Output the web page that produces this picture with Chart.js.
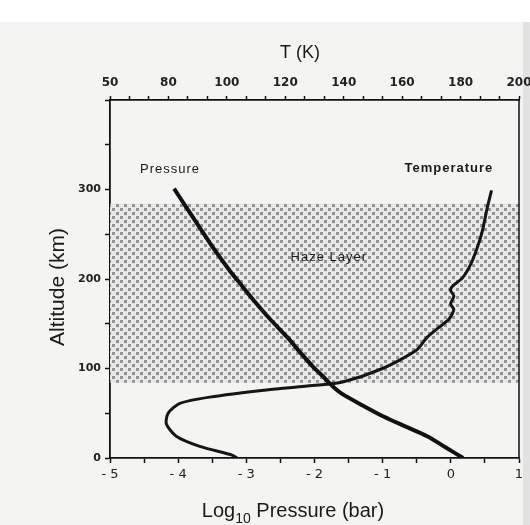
<!DOCTYPE html>
<html><head><meta charset="utf-8">
<script src="https://cdn.jsdelivr.net/npm/chart.js@4/dist/chart.umd.min.js"></script>
<style>html,body{margin:0;padding:0;background:#f4f4f2}#wrap{width:530px;height:525px}</style>
</head><body><div id="wrap"><canvas id="c" width="530" height="525"></canvas></div>
<script>
// ---- data ----
const pressureAlt = [0, 12, 24, 35, 46, 59, 72, 80, 90, 101, 118, 135, 155, 176, 192, 209, 233, 257, 280, 301];
const pressureLog = [0.18, -0.08, -0.34, -0.66, -0.98, -1.30, -1.60, -1.73, -1.86, -2.01, -2.21, -2.40, -2.65, -2.89, -3.06, -3.24, -3.47, -3.68, -3.88, -4.06];
const tempAlt = [0, 3, 13, 24, 38, 50, 61, 68, 76, 81, 85, 100, 120, 135, 146, 155, 166, 172, 181, 187, 192, 201, 216, 235, 253, 279, 299];
const tempK   = [103.5, 102, 90.7, 82.8, 79.3, 79.9, 83.9, 94.1, 113.5, 129.4, 139.6, 153.3, 164.7, 168.6, 172.6, 176, 177.7, 176.6, 177.7, 176.6, 177.2, 180.6, 183.4, 185.7, 187.4, 189.1, 190.6];
const hazeLayer = [84, 284];              // km, bottom and top of shaded haze layer
const pressureTickValues = [-5, -4, -3, -2, -1, 0, 1];
const pressureTickLabels = ['- 5', '- 4', '- 3', '- 2', '- 1', '0', '1'];
const tempTickValues = [60, 80, 100, 120, 140, 160, 180, 200];
const tempTickLabels = ['50', '80', '100', '120', '140', '160', '180', '200'];
const altTickValues = [0, 100, 200, 300];
const altTickLabels = ['0', '100', '200', '300'];
const curveLabels = ['Pressure', 'Temperature', 'Haze Layer'];

// halftone pattern for the haze layer
const pc = document.createElement('canvas'); pc.width = 8; pc.height = 8;
const px = pc.getContext('2d');
px.fillStyle = '#e8e8e8'; px.fillRect(0, 0, 8, 8);
px.fillStyle = '#939393'; px.fillRect(0, 0, 3, 3); px.fillRect(4, 4, 3, 3);
const hazePattern = px.createPattern(pc, 'repeat');

const FONT = '"Liberation Sans", Arial, sans-serif';
const TICKFONT = { family: '"DejaVu Sans", sans-serif', size: 12, weight: 'bold' };

const bgPlugin = {
  id: 'bg',
  beforeDraw(chart) {
    const c = chart.ctx; c.save();
    c.fillStyle = '#f4f4f2'; c.fillRect(0, 0, chart.width, chart.height);
    c.fillStyle = '#ffffff'; c.fillRect(0, 0, chart.width, 22);
    c.fillStyle = '#e2e2e2'; c.fillRect(523, 22, 7, chart.height - 22);
    c.restore();
  }
};

const textPlugin = {
  id: 'texts',
  afterDraw(chart) {
    const c = chart.ctx, a = chart.chartArea, sx = chart.scales.x, st = chart.scales.xT, sy = chart.scales.y;
    c.save();
    // right frame line
    c.strokeStyle = '#111'; c.lineWidth = 1.5;
    c.beginPath(); c.moveTo(a.right, a.top); c.lineTo(a.right, a.bottom); c.stroke();
    c.fillStyle = '#1a1a1a'; c.textBaseline = 'middle'; c.textAlign = 'center';
    // curve labels
    c.letterSpacing = '1px';
    c.font = '13px ' + FONT;
    c.fillText(curveLabels[0], sx.getPixelForValue(-4.12), sy.getPixelForValue(322));
    c.font = 'bold 13px ' + FONT;
    c.fillText(curveLabels[1], st.getPixelForValue(176), sy.getPixelForValue(324));
    c.font = '13px ' + FONT;
    c.fillText(curveLabels[2], sx.getPixelForValue(-1.79), sy.getPixelForValue(224));
    c.letterSpacing = '0px';
    // axis titles
    c.font = '18px ' + FONT;
    c.fillText('T (K)', 300, 53);
    c.save(); c.translate(58, 287); c.rotate(-Math.PI / 2);
    c.font = '21px ' + FONT; c.fillText('Altitude (km)', 0, 0); c.restore();
    c.textAlign = 'left'; c.textBaseline = 'alphabetic';
    c.font = '20px ' + FONT; const w1 = c.measureText('Log').width;
    c.font = '14px ' + FONT; const w2 = c.measureText('10').width;
    c.font = '20px ' + FONT; const w3 = c.measureText(' Pressure (bar)').width;
    let x0 = 293 - (w1 + w2 + w3) / 2;
    c.fillText('Log', x0, 517);
    c.font = '14px ' + FONT; c.fillText('10', x0 + w1, 523);
    c.font = '20px ' + FONT; c.fillText(' Pressure (bar)', x0 + w1 + w2, 517);
    c.restore();
  }
};

function labelFor(values, labels) {
  return (v) => { const i = values.findIndex(t => Math.abs(t - v) < 1e-6); return i >= 0 ? labels[i] : ''; };
}
function noPad(s) { s.paddingLeft = 0; s.paddingRight = 0; s.paddingTop = 0; s.paddingBottom = 0; }
const axisGrid = { drawOnChartArea: false, tickLength: 5, tickColor: '#111', tickWidth: 1.5 };
const axisBorder = { display: true, color: '#111', width: 1.8 };

new Chart(document.getElementById('c'), {
  type: 'line',
  data: {
    datasets: [
      {
        label: 'Haze Layer',
        data: [{ x: -5, y: hazeLayer[1] }, { x: 1, y: hazeLayer[1] }],
        xAxisID: 'x', yAxisID: 'y',
        borderWidth: 0, pointRadius: 0, fill: { value: hazeLayer[0] },
        backgroundColor: hazePattern, order: 10
      },
      {
        label: 'Pressure',
        data: pressureAlt.map((h, i) => ({ x: pressureLog[i], y: h })),
        xAxisID: 'x', yAxisID: 'y',
        borderColor: '#111', borderWidth: 4, pointRadius: 0, tension: 0.25, fill: false, order: 1
      },
      {
        label: 'Temperature',
        data: tempAlt.map((h, i) => ({ x: tempK[i], y: h })),
        xAxisID: 'xT', yAxisID: 'y',
        borderColor: '#151515', borderWidth: 3, pointRadius: 0, tension: 0.25, fill: false, order: 0
      }
    ]
  },
  options: {
    responsive: false, animation: false, devicePixelRatio: 1,
    layout: { padding: { right: 11, left: 0, top: 0, bottom: 0 } },
    plugins: { legend: { display: false }, tooltip: { enabled: false } },
    scales: {
      x: {
        type: 'linear', position: 'bottom', min: -5, max: 1,
        afterFit(s) { s.height = 67; noPad(s); },
        grid: axisGrid, border: axisBorder,
        ticks: { stepSize: 0.5, autoSkip: false, maxRotation: 0, padding: 4, color: '#222',
                 font: { family: '"DejaVu Sans", sans-serif', size: 13 },
                 callback: labelFor(pressureTickValues, pressureTickLabels) }
      },
      xT: {
        type: 'linear', position: 'top', min: 60, max: 200,
        afterFit(s) { s.height = 100; noPad(s); },
        afterBuildTicks(s) {
          const t = [];
          for (let i = 0; i < tempTickValues.length; i++) {
            t.push({ value: tempTickValues[i] });
            if (i < tempTickValues.length - 1) {
              const d = (tempTickValues[i + 1] - tempTickValues[i]) / 3;
              t.push({ value: tempTickValues[i] + d }, { value: tempTickValues[i] + 2 * d });
            }
          }
          s.ticks = t;
        },
        grid: { drawOnChartArea: false, tickLength: 4, tickColor: '#111', tickWidth: 1.5 }, border: axisBorder,
        ticks: { autoSkip: false, maxRotation: 0, padding: 6, color: '#222', font: TICKFONT,
                 callback: labelFor(tempTickValues, tempTickLabels) }
      },
      y: {
        type: 'linear', position: 'left', min: 0, max: 400,
        afterFit(s) { s.width = 110; noPad(s); },
        grid: axisGrid, border: axisBorder,
        ticks: { stepSize: 50, autoSkip: false, padding: 4, color: '#222',
                 font: { family: '"DejaVu Sans", sans-serif', size: 11, weight: 'bold' },
                 callback: labelFor(altTickValues, altTickLabels) }
      }
    }
  },
  plugins: [bgPlugin, textPlugin]
});
</script>
</body></html>
